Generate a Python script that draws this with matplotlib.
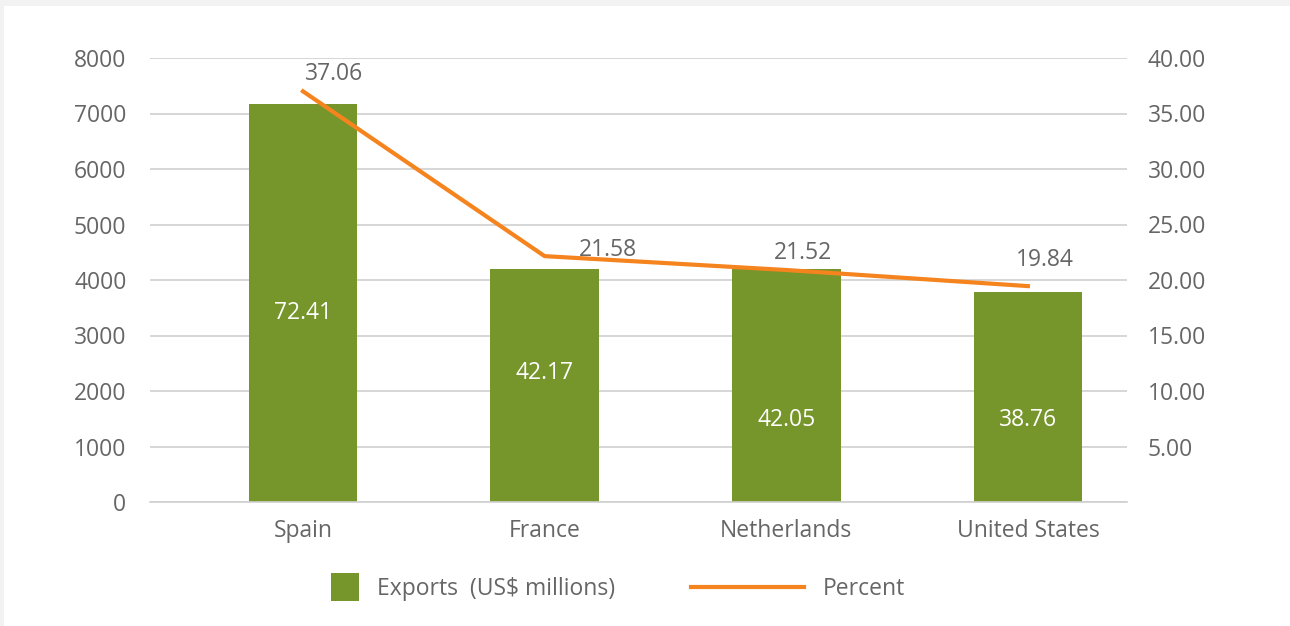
import numpy as np
import matplotlib
matplotlib.use('Agg')
import matplotlib.pyplot as plt
from matplotlib.patches import Rectangle, Patch
from matplotlib.lines import Line2D
from matplotlib.legend_handler import HandlerPatch

# data
countries = ['Spain', 'France', 'Netherlands', 'United States']
exports = [7180, 4190, 4190, 3790]
export_labels = ['72.41', '42.17', '42.05', '38.76']
percent = [37.0, 22.15, 20.9, 19.45]
percent_labels = ['37.06', '21.58', '21.52', '19.84']

# where the labels sit (data units, as placed in the reference)
export_label_y = [3400, 2320, 1480, 1480]
percent_label_xy = [(0.13, 38.6), (1.26, 22.7), (2.07, 22.45), (3.07, 21.8)]

green = '#76952a'
orange = '#f5841f'
grey = '#666666'

plt.rcParams['font.family'] = ['Open Sans', 'DejaVu Sans']
plt.rcParams['font.size'] = 16.5

fig = plt.figure(figsize=(12.9, 6.26), dpi=100)
fig.patch.set_facecolor('#f2f2f2')
fig.patches.append(Rectangle((4 / 1290, 0), 1, 620 / 626, transform=fig.transFigure,
                             facecolor='white', edgecolor='none', zorder=-10))

ax = fig.add_axes([150 / 1290, 1 - 502 / 626, 977 / 1290, 444 / 626])
ax.set_facecolor('none')
x = np.arange(len(countries))
ax.bar(x, exports, width=0.45, color=green, zorder=2, label='Exports  (US$ millions)')
for xi, yi, lab in zip(x, export_label_y, export_labels):
    ax.text(xi, yi, lab, color='white', ha='center', va='center', zorder=4)

ax.set_xlim(-0.633, 3.41)
ax.set_ylim(0, 8000)
ax.set_yticks(range(0, 8001, 1000))
ax.yaxis.grid(True, color='#d0d0d0', linewidth=1.2)
ax.set_axisbelow(True)
ax.set_xticks(x)
ax.set_xticklabels(countries)
ax.tick_params(axis='both', length=0, colors=grey, labelsize=16.5)
ax.tick_params(axis='y', pad=17)
ax.tick_params(axis='x', pad=12)
for s in ax.spines.values():
    s.set_visible(False)
ax.spines['bottom'].set_visible(True)
ax.spines['bottom'].set_color('#d0d0d0')
ax.spines['bottom'].set_linewidth(1.2)

ax2 = ax.twinx()
ax2.plot(x, percent, color=orange, linewidth=3, zorder=3, label='Percent')
for (lx, ly), lab in zip(percent_label_xy, percent_labels):
    ax2.text(lx, ly, lab, color=grey, ha='center', va='center')
ax2.set_ylim(0, 40)
ax2.set_yticks(np.arange(5, 41, 5))
ax2.set_yticklabels(['%.2f' % v for v in np.arange(5, 41, 5)])
ax2.tick_params(axis='y', length=0, colors=grey, labelsize=16.5, pad=15)
for s in ax2.spines.values():
    s.set_visible(False)


def square_key(legend, orig_handle, xdescent, ydescent, width, height, fontsize):
    side = 28 * 72 / 100
    return Rectangle((width - side - xdescent, height / 2 - side / 2 - ydescent), side, side)


handles = [Patch(facecolor=green, label='Exports  (US$ millions)'),
           Line2D([], [], color=orange, linewidth=3, label='Percent')]
fig.legend(handles=handles, loc='center', bbox_to_anchor=(575 / 1290, 1 - 589 / 626),
           ncol=2, frameon=False, handlelength=4.95, handletextpad=0.8,
           columnspacing=3.3, labelcolor=grey, fontsize=16.5,
           handler_map={Patch: HandlerPatch(patch_func=square_key)})

fig.savefig('out.png', dpi=100, facecolor=fig.get_facecolor())
plt.close(fig)
